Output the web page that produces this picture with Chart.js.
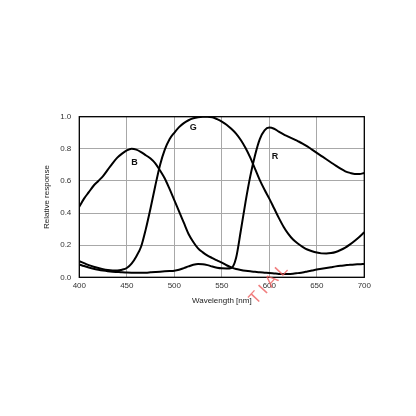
<!DOCTYPE html>
<html>
<head>
<meta charset="utf-8">
<script src="https://cdn.jsdelivr.net/npm/chart.js@4/dist/chart.umd.min.js"></script>
<style>
html,body{margin:0;padding:0;background:#fff;}
#wrap{width:416px;height:416px;}
</style>
</head>
<body>
<div id="wrap"><canvas id="c" width="416" height="416"></canvas></div>
<script>
// Wavelengths (nm), 5 nm steps
const wavelengths = [400,405,410,415,420,425,430,435,440,445,450,455,460,465,470,475,480,485,490,495,500,505,510,515,520,525,530,535,540,545,550,555,560,565,570,575,580,585,590,595,600,605,610,615,620,625,630,635,640,645,650,655,660,665,670,675,680,685,690,695,700];

const blueResp = [0.44,0.49,0.53,0.57,0.60,0.63,0.67,0.71,0.745,0.77,0.79,0.80,0.795,0.78,0.76,0.74,0.71,0.665,0.615,0.55,0.48,0.41,0.34,0.27,0.22,0.18,0.155,0.135,0.12,0.105,0.092,0.075,0.062,0.052,0.046,0.041,0.037,0.034,0.031,0.029,0.027,0.024,0.021,0.02,0.02,0.022,0.026,0.03,0.036,0.042,0.048,0.053,0.058,0.063,0.068,0.072,0.075,0.078,0.080,0.081,0.083];

const greenResp = [0.10,0.088,0.076,0.066,0.058,0.051,0.046,0.043,0.042,0.047,0.058,0.085,0.13,0.19,0.30,0.43,0.57,0.70,0.795,0.86,0.90,0.935,0.96,0.978,0.99,0.997,1.0,1.0,0.997,0.985,0.97,0.95,0.925,0.895,0.855,0.805,0.745,0.675,0.605,0.545,0.49,0.43,0.37,0.315,0.27,0.235,0.21,0.19,0.173,0.162,0.154,0.149,0.148,0.151,0.158,0.17,0.185,0.205,0.228,0.253,0.28];

const redResp = [0.08,0.07,0.061,0.053,0.047,0.042,0.038,0.035,0.033,0.031,0.030,0.029,0.028,0.028,0.029,0.031,0.033,0.035,0.037,0.039,0.041,0.047,0.057,0.068,0.078,0.083,0.082,0.076,0.067,0.06,0.056,0.055,0.058,0.12,0.29,0.47,0.63,0.76,0.86,0.915,0.932,0.925,0.907,0.89,0.876,0.862,0.848,0.833,0.815,0.795,0.775,0.755,0.735,0.715,0.695,0.676,0.66,0.65,0.643,0.643,0.65];

const xTicks = [400,450,500,550,600,650,700];
const yTicks = [0.0,0.2,0.4,0.6,0.8,1.0];

const curveLabels = ['B','G','R'];
const curveLabelX = [458,520,606];
const curveLabelY = [0.716,0.93,0.753];

const watermarkText = 'TIAL';

const FONT = '"Liberation Sans", Arial, sans-serif';

function toPts(ys){ return wavelengths.map((x,i)=>({x:x,y:ys[i]})); }

const ds = (ys)=>({
  data: toPts(ys),
  borderColor:'#000',
  borderWidth:2,
  pointRadius:0,
  tension:0.4,
  cubicInterpolationMode:'monotone',
  fill:false
});

const overlay = {
  id:'overlay',
  afterDatasetsDraw(chart){
    const {ctx, chartArea:a, scales:{x,y}} = chart;
    ctx.save();
    ctx.strokeStyle='#000';
    ctx.lineWidth=1.3;
    ctx.strokeRect(a.left, a.top, a.right-a.left, a.bottom-a.top);
    ctx.fillStyle='#111';
    ctx.font='bold 9px '+FONT;
    ctx.textAlign='center';
    ctx.textBaseline='middle';
    curveLabels.forEach((t,i)=>{
      ctx.fillText(t, x.getPixelForValue(curveLabelX[i]), y.getPixelForValue(curveLabelY[i]));
    });
    ctx.restore();
  },
  afterDraw(chart){
    const ctx = chart.ctx;
    ctx.save();
    ctx.fillStyle='rgba(238,95,95,0.8)';
    ctx.font='17px '+FONT;
    ctx.textAlign='center';
    ctx.textBaseline='middle';
    try { ctx.letterSpacing = '4px'; } catch(e) {}
    ctx.translate(270, 283);
    ctx.rotate(-47*Math.PI/180);
    ctx.fillText(watermarkText, 0, 0);
    ctx.restore();
  }
};

new Chart(document.getElementById('c'), {
  type:'line',
  data:{ datasets:[ds(blueResp), ds(greenResp), ds(redResp)] },
  options:{
    responsive:false,
    devicePixelRatio:1,
    animation:false,
    layout:{ padding:{ left:0, top:116.7, right:51.7, bottom:108.7 } },
    plugins:{ legend:{display:false}, tooltip:{enabled:false} },
    scales:{
      x:{
        type:'linear',
        min:400, max:700,
        afterBuildTicks(s){ s.ticks = xTicks.map(v=>({value:v})); },
        afterFit(s){ s.height = 30; },
        grid:{ color:'#a8a8a8', lineWidth:1, drawTicks:false },
        border:{ display:false },
        ticks:{ font:{family:FONT,size:8}, color:'#333', padding:4, maxRotation:0 },
        title:{ display:true, text:'Wavelength [nm]', font:{family:FONT,size:8}, color:'#222', padding:{top:0,bottom:1.8} }
      },
      y:{
        type:'linear',
        min:0, max:1,
        afterBuildTicks(s){ s.ticks = yTicks.map(v=>({value:v})); },
        afterFit(s){ s.width = 79.3; },
        grid:{ color:'#a8a8a8', lineWidth:1, drawTicks:false },
        border:{ display:false },
        ticks:{ font:{family:FONT,size:8}, color:'#333', padding:8, callback:(v)=>Number(v).toFixed(1) },
        title:{ display:true, text:'Relative response', font:{family:FONT,size:8}, color:'#222', padding:{top:42.2,bottom:0} }
      }
    }
  },
  plugins:[overlay]
});
</script>
</body>
</html>
